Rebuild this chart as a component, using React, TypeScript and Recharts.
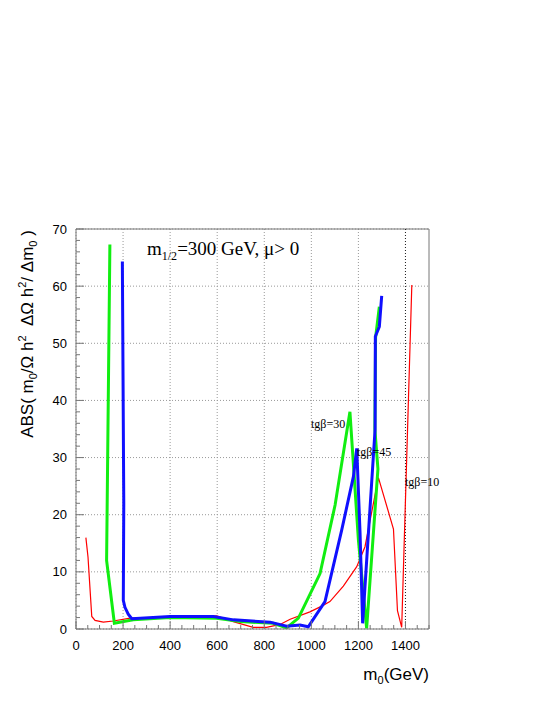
import React from "react";
import {
  LineChart,
  Line,
  XAxis,
  YAxis,
  CartesianGrid,
  ReferenceLine,
} from "recharts";

// tgβ=10 (thin red)
const redM = [42, 51, 67, 81, 116, 158, 230, 400, 598, 668, 753, 810, 867, 910, 994, 1044, 1079, 1136, 1193, 1228, 1285, 1349, 1366, 1384, 1427];
const redV = [16.0, 12.6, 2.2, 1.5, 1.2, 1.4, 1.9, 2.1, 2.3, 1.3, 0.3, 0.3, 0.8, 1.7, 3.0, 4.0, 4.8, 7.5, 10.9, 14.4, 26.5, 17.5, 3.2, 0.3, 60.2];

// tgβ=30 (green)
const greenM = [144, 130, 163, 243, 400, 598, 700, 838, 895, 945, 1037, 1101, 1164, 1200, 1235, 1283, 1270, 1273, 1289];
const greenV = [67.3, 12.0, 1.0, 1.6, 2.0, 1.9, 1.3, 1.0, 0.2, 1.9, 9.7, 21.7, 38.0, 15.6, 0.1, 28.0, 35.0, 51.0, 56.4];

// tgβ=45 (blue)
const blueM = [197, 203, 201, 208, 222, 237, 400, 584, 669, 825, 895, 952, 987, 1058, 1129, 1179, 1193, 1207, 1218, 1271, 1272, 1289, 1299];
const blueV = [64.3, 22.0, 5.0, 3.8, 2.6, 1.8, 2.2, 2.2, 1.6, 1.2, 0.5, 0.7, 0.4, 4.8, 17.3, 26.7, 31.6, 16.8, 1.0, 35.0, 51.2, 52.9, 58.3];

const xMajor = [0, 200, 400, 600, 800, 1000, 1200, 1400];
const yMajor = [0, 10, 20, 30, 40, 50, 60, 70];
const xTicks = Array.from({ length: 31 }, (_, i) => i * 50);
const yTicks = Array.from({ length: 36 }, (_, i) => i * 2);

const toPoints = (ms: number[], vs: number[]) => ms.map((m, i) => ({ m, v: vs[i] }));
const redData = toPoints(redM, redV);
const greenData = toPoints(greenM, greenV);
const blueData = toPoints(blueM, blueV);

const AXIS = "#777";
const SANS = "'Liberation Sans', Arial, sans-serif";
const SERIF = "'Liberation Serif', 'Times New Roman', serif";

const XTick = (props: any) => {
  const { x, y, payload } = props;
  const major = xMajor.includes(payload.value);
  return (
    <g>
      <line x1={x} y1={y} x2={x} y2={y - (major ? 8 : 4)} stroke={AXIS} />
      {major && (
        <text x={x} y={y + 21} textAnchor="middle" fontFamily={SANS} fontSize={13} fill="#000">
          {payload.value}
        </text>
      )}
    </g>
  );
};

const YTick = (props: any) => {
  const { x, y, payload } = props;
  const major = yMajor.includes(payload.value);
  return (
    <g>
      <line x1={x} y1={y} x2={x + (major ? 8 : 4)} y2={y} stroke={AXIS} />
      {major && (
        <text x={x - 9} y={y + 4.5} textAnchor="end" fontFamily={SANS} fontSize={13} fill="#000">
          {payload.value}
        </text>
      )}
    </g>
  );
};

export default function App() {
  return (
    <div style={{ position: "absolute", left: 0, top: 0, width: 545, height: 705, background: "#fff" }}>
      <LineChart
        width={545}
        height={705}
        margin={{ top: 229, right: 116, bottom: 46, left: 16 }}
      >
        <CartesianGrid
          stroke="#999"
          strokeDasharray="1 2"
          horizontalValues={yMajor}
          verticalValues={xMajor}
        />
        <XAxis
          type="number"
          dataKey="m"
          domain={[0, 1500]}
          ticks={xTicks}
          interval={0}
          height={30}
          tickSize={0}
          tickMargin={0}
          tickLine={false}
          axisLine={{ stroke: AXIS }}
          tick={(p: any) => <XTick {...p} />}
          allowDataOverflow
        />
        <YAxis
          type="number"
          dataKey="v"
          domain={[0, 70]}
          ticks={yTicks}
          interval={0}
          width={60}
          tickSize={0}
          tickMargin={0}
          tickLine={false}
          axisLine={{ stroke: AXIS }}
          tick={(p: any) => <YTick {...p} />}
          allowDataOverflow
        />
        <ReferenceLine y={70} stroke={AXIS} />
        <ReferenceLine x={1500} stroke={AXIS} />
        <ReferenceLine x={1400} stroke="#222" strokeDasharray="1 2" />
        <Line data={redData} dataKey="v" type="linear" stroke="#ff0000" strokeWidth={1.2} dot={false} isAnimationActive={false} />
        <Line data={greenData} dataKey="v" type="linear" stroke="#11ee11" strokeWidth={3} dot={false} isAnimationActive={false} />
        <Line data={blueData} dataKey="v" type="linear" stroke="#1010ff" strokeWidth={3} dot={false} isAnimationActive={false} />
      </LineChart>
      <svg width={545} height={705} style={{ position: "absolute", left: 0, top: 0, pointerEvents: "none" }}>
        <text x={147} y={255} fontFamily={SERIF} fontSize={19} fill="#000">
          m<tspan fontSize={12} dy={5}>1/2</tspan>
          <tspan dy={-5}>=300 GeV, μ&gt; 0</tspan>
        </text>
        <text x={311} y={428} fontFamily={SERIF} fontSize={12} fill="#000">tgβ=30</text>
        <text x={357} y={456} fontFamily={SERIF} fontSize={12} fill="#000">tgβ=45</text>
        <text x={405} y={486} fontFamily={SERIF} fontSize={12} fill="#000">tgβ=10</text>
        <text
          transform="translate(33,334) rotate(-90)"
          textAnchor="middle"
          fontFamily={SANS}
          fontSize={17}
          fill="#000"
          style={{ whiteSpace: "pre" }}
        >
          ABS( m<tspan fontSize={11} dy={4}>0</tspan>
          <tspan dy={-4}>/Ω h</tspan>
          <tspan fontSize={11} dy={-7}>2</tspan>
          <tspan dy={7}>{"\u00a0\u00a0ΔΩ h"}</tspan>
          <tspan fontSize={11} dy={-7}>2</tspan>
          <tspan dy={7}>{"/ Δm"}</tspan>
          <tspan fontSize={11} dy={4}>0</tspan>
          <tspan dy={-4}>{" )"}</tspan>
        </text>
        <text x={429} y={680} textAnchor="end" fontFamily={SANS} fontSize={17} fill="#000">
          m<tspan fontSize={11} dy={4}>0</tspan>
          <tspan dy={-4}>(GeV)</tspan>
        </text>
      </svg>
    </div>
  );
}
